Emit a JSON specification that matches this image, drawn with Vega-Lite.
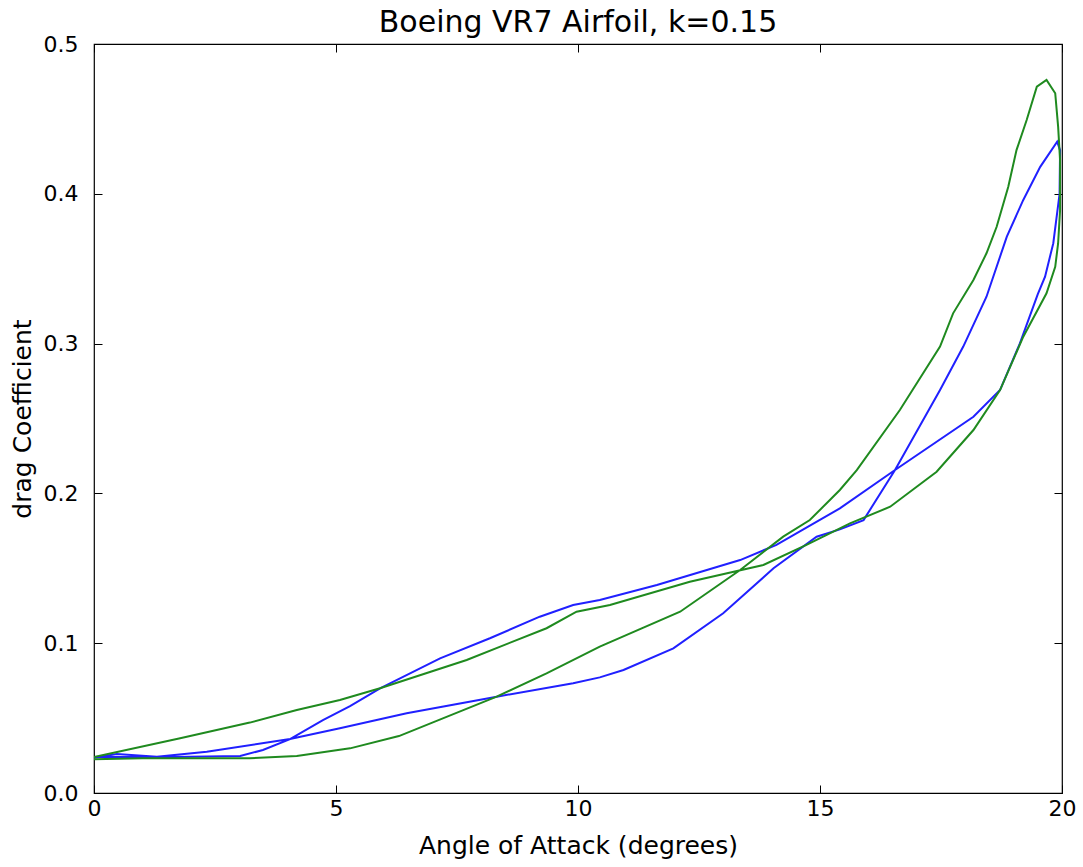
{
  "$schema": "https://vega.github.io/schema/vega-lite/v6.json",
  "width": 968,
  "height": 749,
  "autosize": {"type": "none"},
  "padding": {"left": 94, "top": 44, "right": 21, "bottom": 74},
  "background": "white",
  "title": {"text": "Boeing VR7 Airfoil, k=0.15", "font": "DejaVu Sans", "fontSize": 30, "fontWeight": "normal", "color": "black", "offset": -5},
  "config": {
    "view": {"stroke": "black", "strokeWidth": 1.2},
    "axis": {"grid": false, "domain": false, "labelFlush": false, "labelFont": "DejaVu Sans", "titleFont": "DejaVu Sans", "labelFontSize": 22, "titleFontSize": 25, "titleFontWeight": "normal", "labelColor": "black", "titleColor": "black", "tickColor": "black", "tickSize": -8, "tickWidth": 1}
  },
  "data": {"values": [
    {"series": "a", "i": 0, "alpha": 0, "cd": 0.024},
    {"series": "a", "i": 1, "alpha": 0.5, "cd": 0.024},
    {"series": "a", "i": 2, "alpha": 1.64, "cd": 0.024},
    {"series": "a", "i": 3, "alpha": 3.02, "cd": 0.0247},
    {"series": "a", "i": 4, "alpha": 3.49, "cd": 0.0287},
    {"series": "a", "i": 5, "alpha": 4.05, "cd": 0.036},
    {"series": "a", "i": 6, "alpha": 4.73, "cd": 0.0487},
    {"series": "a", "i": 7, "alpha": 5.29, "cd": 0.058},
    {"series": "a", "i": 8, "alpha": 5.91, "cd": 0.0699},
    {"series": "a", "i": 9, "alpha": 7.15, "cd": 0.0899},
    {"series": "a", "i": 10, "alpha": 8.18, "cd": 0.1033},
    {"series": "a", "i": 11, "alpha": 9.21, "cd": 0.1177},
    {"series": "a", "i": 12, "alpha": 9.9, "cd": 0.1255},
    {"series": "a", "i": 13, "alpha": 10.45, "cd": 0.1288},
    {"series": "a", "i": 14, "alpha": 11.63, "cd": 0.1389},
    {"series": "a", "i": 15, "alpha": 13.35, "cd": 0.1555},
    {"series": "a", "i": 16, "alpha": 14.1, "cd": 0.1656},
    {"series": "a", "i": 17, "alpha": 15.41, "cd": 0.19},
    {"series": "a", "i": 18, "alpha": 16.55, "cd": 0.2156},
    {"series": "a", "i": 19, "alpha": 18.17, "cd": 0.2512},
    {"series": "a", "i": 20, "alpha": 18.72, "cd": 0.269},
    {"series": "a", "i": 21, "alpha": 19.13, "cd": 0.3002},
    {"series": "a", "i": 22, "alpha": 19.5, "cd": 0.333},
    {"series": "a", "i": 23, "alpha": 19.65, "cd": 0.3447},
    {"series": "a", "i": 24, "alpha": 19.82, "cd": 0.367},
    {"series": "a", "i": 25, "alpha": 19.95, "cd": 0.4},
    {"series": "a", "i": 26, "alpha": 19.96, "cd": 0.4292},
    {"series": "a", "i": 27, "alpha": 19.9, "cd": 0.4348},
    {"series": "a", "i": 28, "alpha": 19.55, "cd": 0.418},
    {"series": "a", "i": 29, "alpha": 19.2, "cd": 0.3959},
    {"series": "a", "i": 30, "alpha": 18.86, "cd": 0.3714},
    {"series": "a", "i": 31, "alpha": 18.44, "cd": 0.3313},
    {"series": "a", "i": 32, "alpha": 17.96, "cd": 0.298},
    {"series": "a", "i": 33, "alpha": 17.48, "cd": 0.269},
    {"series": "a", "i": 34, "alpha": 16.55, "cd": 0.2156},
    {"series": "a", "i": 35, "alpha": 15.9, "cd": 0.1822},
    {"series": "a", "i": 36, "alpha": 15.41, "cd": 0.176},
    {"series": "a", "i": 37, "alpha": 14.93, "cd": 0.1711},
    {"series": "a", "i": 38, "alpha": 14.04, "cd": 0.15},
    {"series": "a", "i": 39, "alpha": 13.0, "cd": 0.12},
    {"series": "a", "i": 40, "alpha": 11.97, "cd": 0.0966},
    {"series": "a", "i": 41, "alpha": 10.94, "cd": 0.0821},
    {"series": "a", "i": 42, "alpha": 10.45, "cd": 0.0772},
    {"series": "a", "i": 43, "alpha": 9.9, "cd": 0.0732},
    {"series": "a", "i": 44, "alpha": 8.32, "cd": 0.0643},
    {"series": "a", "i": 45, "alpha": 6.46, "cd": 0.0532},
    {"series": "a", "i": 46, "alpha": 5.08, "cd": 0.0432},
    {"series": "a", "i": 47, "alpha": 4.05, "cd": 0.036},
    {"series": "a", "i": 48, "alpha": 2.33, "cd": 0.0276},
    {"series": "a", "i": 49, "alpha": 1.3, "cd": 0.0242},
    {"series": "a", "i": 50, "alpha": 0.47, "cd": 0.026},
    {"series": "a", "i": 51, "alpha": 0, "cd": 0.0235},
    {"series": "b", "i": 0, "alpha": 0, "cd": 0.024},
    {"series": "b", "i": 1, "alpha": 1.78, "cd": 0.0365},
    {"series": "b", "i": 2, "alpha": 3.22, "cd": 0.047},
    {"series": "b", "i": 3, "alpha": 4.19, "cd": 0.0554},
    {"series": "b", "i": 4, "alpha": 5.08, "cd": 0.0621},
    {"series": "b", "i": 5, "alpha": 5.91, "cd": 0.0699},
    {"series": "b", "i": 6, "alpha": 7.7, "cd": 0.0888},
    {"series": "b", "i": 7, "alpha": 9.35, "cd": 0.11},
    {"series": "b", "i": 8, "alpha": 9.97, "cd": 0.121},
    {"series": "b", "i": 9, "alpha": 10.66, "cd": 0.1255},
    {"series": "b", "i": 10, "alpha": 12.31, "cd": 0.141},
    {"series": "b", "i": 11, "alpha": 13.83, "cd": 0.1522},
    {"series": "b", "i": 12, "alpha": 14.72, "cd": 0.1656},
    {"series": "b", "i": 13, "alpha": 15.62, "cd": 0.18},
    {"series": "b", "i": 14, "alpha": 16.45, "cd": 0.1911},
    {"series": "b", "i": 15, "alpha": 17.41, "cd": 0.2145},
    {"series": "b", "i": 16, "alpha": 18.17, "cd": 0.2423},
    {"series": "b", "i": 17, "alpha": 18.72, "cd": 0.269},
    {"series": "b", "i": 18, "alpha": 19.2, "cd": 0.3046},
    {"series": "b", "i": 19, "alpha": 19.68, "cd": 0.3336},
    {"series": "b", "i": 20, "alpha": 19.86, "cd": 0.3513},
    {"series": "b", "i": 21, "alpha": 19.92, "cd": 0.367},
    {"series": "b", "i": 22, "alpha": 19.96, "cd": 0.389},
    {"series": "b", "i": 23, "alpha": 19.96, "cd": 0.4226},
    {"series": "b", "i": 24, "alpha": 19.92, "cd": 0.4448},
    {"series": "b", "i": 25, "alpha": 19.86, "cd": 0.4671},
    {"series": "b", "i": 26, "alpha": 19.68, "cd": 0.476},
    {"series": "b", "i": 27, "alpha": 19.48, "cd": 0.4715},
    {"series": "b", "i": 28, "alpha": 19.27, "cd": 0.4493},
    {"series": "b", "i": 29, "alpha": 19.06, "cd": 0.4292},
    {"series": "b", "i": 30, "alpha": 18.89, "cd": 0.4047},
    {"series": "b", "i": 31, "alpha": 18.65, "cd": 0.378},
    {"series": "b", "i": 32, "alpha": 18.44, "cd": 0.3603},
    {"series": "b", "i": 33, "alpha": 18.17, "cd": 0.3425},
    {"series": "b", "i": 34, "alpha": 17.75, "cd": 0.3202},
    {"series": "b", "i": 35, "alpha": 17.48, "cd": 0.298},
    {"series": "b", "i": 36, "alpha": 16.65, "cd": 0.2557},
    {"series": "b", "i": 37, "alpha": 15.76, "cd": 0.2156},
    {"series": "b", "i": 38, "alpha": 15.41, "cd": 0.2023},
    {"series": "b", "i": 39, "alpha": 14.79, "cd": 0.1822},
    {"series": "b", "i": 40, "alpha": 14.24, "cd": 0.1711},
    {"series": "b", "i": 41, "alpha": 13.35, "cd": 0.1489},
    {"series": "b", "i": 42, "alpha": 12.11, "cd": 0.121},
    {"series": "b", "i": 43, "alpha": 10.45, "cd": 0.0977},
    {"series": "b", "i": 44, "alpha": 9.35, "cd": 0.0799},
    {"series": "b", "i": 45, "alpha": 8.32, "cd": 0.0643},
    {"series": "b", "i": 46, "alpha": 6.3, "cd": 0.038},
    {"series": "b", "i": 47, "alpha": 5.29, "cd": 0.0298},
    {"series": "b", "i": 48, "alpha": 4.19, "cd": 0.0247},
    {"series": "b", "i": 49, "alpha": 3.22, "cd": 0.0232},
    {"series": "b", "i": 50, "alpha": 1.0, "cd": 0.0232},
    {"series": "b", "i": 51, "alpha": 0, "cd": 0.0225}
  ]},
  "layer": [
    {
      "mark": {"type": "line", "strokeWidth": 2, "clip": true},
      "encoding": {
        "x": {"field": "alpha", "type": "quantitative", "scale": {"domain": [0, 20], "nice": false, "zero": false}, "axis": {"values": [0, 5, 10, 15, 20], "title": "Angle of Attack (degrees)", "labelPadding": 13, "titlePadding": 14}},
        "y": {"field": "cd", "type": "quantitative", "scale": {"domain": [0, 0.5], "nice": false}, "axis": {"values": [0, 0.1, 0.2, 0.3, 0.4, 0.5], "format": ".1f", "title": "drag Coefficient", "labelPadding": 24, "titlePadding": 8}},
        "color": {"field": "series", "type": "nominal", "scale": {"domain": ["a", "b"], "range": ["#2020ff", "#1f8a1f"]}, "legend": null},
        "order": {"field": "i", "type": "quantitative"}
      }
    },
    {
      "mark": {"type": "line", "strokeOpacity": 0},
      "encoding": {
        "x": {"field": "alpha", "type": "quantitative", "scale": {"domain": [0, 20], "nice": false, "zero": false}, "axis": {"orient": "top", "values": [0, 5, 10, 15, 20], "labels": false, "title": null}},
        "y": {"field": "cd", "type": "quantitative", "scale": {"domain": [0, 0.5], "nice": false}, "axis": {"orient": "right", "values": [0, 0.1, 0.2, 0.3, 0.4, 0.5], "labels": false, "title": null}},
        "detail": {"field": "series", "type": "nominal"},
        "order": {"field": "i", "type": "quantitative"}
      }
    }
  ],
  "resolve": {"axis": {"x": "independent", "y": "independent"}}
}
